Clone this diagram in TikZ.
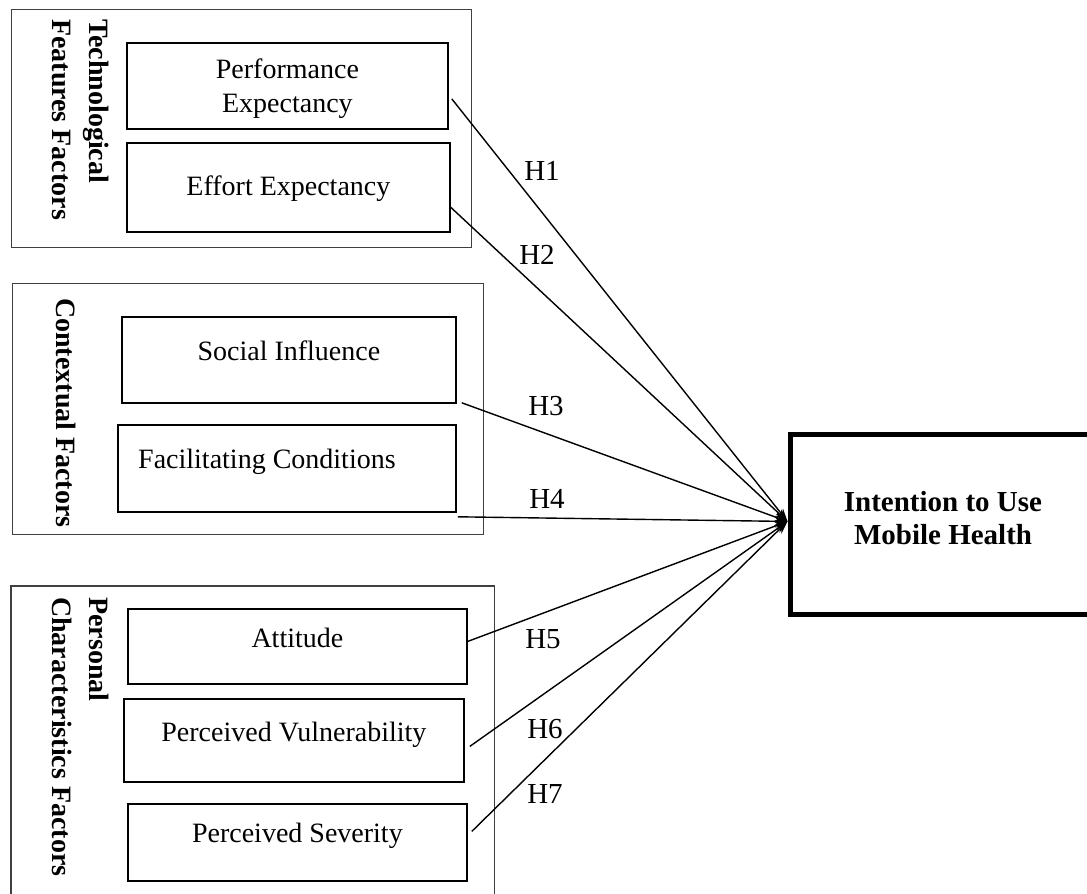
\documentclass[tikz,border=0pt]{standalone}
\usepackage{fontspec}
\setmainfont{Liberation Serif}
\usetikzlibrary{arrows.meta,calc}
\begin{document}
\begin{tikzpicture}[x=1pt,y=-1pt,
  grp/.style={draw=black!75, line width=1.1pt, inner sep=0pt, anchor=north west},
  fbox/.style={draw=black, line width=1.8pt, inner sep=0pt, anchor=north west},
  txt/.style={font=\fontsize{28}{34}\selectfont, inner sep=0pt, anchor=base},
  vlab/.style={font=\fontsize{28}{37}\selectfont\bfseries, rotate=-90, align=left, inner sep=0pt, anchor=north west},
  hyp/.style={font=\fontsize{29}{33}\selectfont, inner sep=0pt, anchor=base},
  link/.style={line width=1.4pt, -{Stealth[length=13pt,width=9pt]}}]
\useasboundingbox (0,0) rectangle (1087,894);

% group 1
\node[grp, minimum width=460pt, minimum height=238pt] (g1) at (11,9) {};
\node[fbox, minimum width=321pt, minimum height=86pt] (pe) at (126,42) {};
\node[fbox, minimum width=323pt, minimum height=89pt] (ee) at (126,142) {};
\node[vlab] (g1l) at (109,19) {Technological\\Features Factors};
\node[txt, anchor=center, align=center] (pet) at (pe.center |- 0,89) {Performance\\Expectancy};
\node[txt] (eet) at (ee.center |- 0,195) {Effort Expectancy};

% group 2
\node[grp, minimum width=471pt, minimum height=251pt] (g2) at (12,283) {};
\node[fbox, minimum width=334pt, minimum height=86pt] (si) at (121,316) {};
\node[fbox, minimum width=338pt, minimum height=87pt] (fc) at (117,424) {};
\node[vlab] (g2l) at (76,298) {Contextual Factors};
\node[txt] (sit) at (si.center |- 0,360) {Social Influence};
\node[txt, anchor=base west] (fct) at (138,468) {Facilitating Conditions};

% group 3 (bottom cut off)
\node[inner sep=0pt, anchor=north west, minimum width=483pt, minimum height=308pt] (g3) at (11,586) {};
\draw[draw=black!75, line width=1.1pt] (g3.south west) -- (g3.north west) -- (g3.north east) -- (g3.south east);
\node[fbox, minimum width=339pt, minimum height=75pt] (at) at (127,608) {};
\node[fbox, minimum width=340pt, minimum height=83pt] (pv) at (123,698) {};
\node[fbox, minimum width=339pt, minimum height=77pt] (ps) at (127,803) {};
\node[vlab] (g3l) at (109,597) {Personal\\Characteristics Factors};
\node[txt] (att) at (at.center |- 0,647) {Attitude};
\node[txt] (pvt) at (pv.center |- 0,741) {Perceived Vulnerability};
\node[txt] (pst) at (ps.center |- 0,842) {Perceived Severity};

% outcome (right side cut off)
\node[inner sep=0pt, anchor=north west, minimum width=296.5pt, minimum height=179.5pt] (iu) at (790.5,434.5) {};
\draw[line width=5pt] (iu.north east) -- (iu.north west) -- (iu.south west) -- (iu.south east);
\node[font=\fontsize{29}{33}\selectfont\bfseries, align=center, inner sep=0pt] (iut) at (943,518) {Intention to Use\\Mobile Health};

\coordinate (tip) at ($(iu.west)+(-3,-3)$);

% links
\draw[link] ($(pe.east)+(3,13)$) -- (tip);
\draw[link] ($(ee.east)+(-1,19)$) -- (tip);
\draw[link] ($(si.south east)+(5,-1)$) -- (tip);
\draw[link] ($(fc.south east)+(1,4)$) -- (tip);
\draw[link] ($(at.east)+(0,-5)$) -- (tip);
\draw[link] ($(pv.east)+(5,6)$) -- (tip);
\draw[link] ($(ps.east)+(4,-11)$) -- (tip);

% hypothesis labels
\node[hyp] (h1) at (542,180) {H1};
\node[hyp] (h2) at (537,264) {H2};
\node[hyp] (h3) at (546,415) {H3};
\node[hyp] (h4) at (547,508) {H4};
\node[hyp] (h5) at (543,648) {H5};
\node[hyp] (h6) at (545,738) {H6};
\node[hyp] (h7) at (545,803) {H7};
\end{tikzpicture}
\end{document}
